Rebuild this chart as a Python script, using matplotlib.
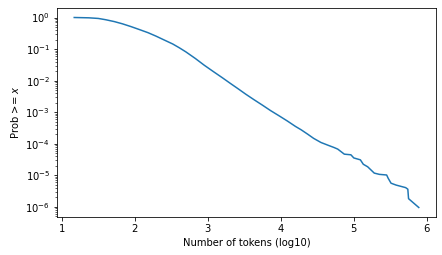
import matplotlib
matplotlib.use("Agg")
import matplotlib.pyplot as plt
import numpy as np

# log10 of token counts and tail probability P(X >= x)
log_tokens = [1.17, 1.37, 1.50, 1.60, 1.72, 1.83, 1.95, 2.06, 2.18, 2.29, 2.40,
              2.52, 2.61, 2.70, 2.83, 2.95, 3.08, 3.20, 3.31, 3.41, 3.52, 3.63,
              3.75, 3.86, 3.98, 4.09, 4.20, 4.28, 4.37, 4.45, 4.55, 4.65, 4.73,
              4.78, 4.87, 4.96, 5.00, 5.09, 5.13, 5.19, 5.28, 5.35, 5.45, 5.47,
              5.51, 5.58, 5.71, 5.74, 5.75, 5.89]
log_prob = [0.0, -0.01, -0.03, -0.07, -0.13, -0.20, -0.29, -0.38, -0.48, -0.59,
            -0.71, -0.84, -0.96, -1.09, -1.30, -1.51, -1.72, -1.91, -2.09, -2.25,
            -2.43, -2.60, -2.78, -2.95, -3.12, -3.28, -3.45, -3.56, -3.70, -3.83,
            -3.96, -4.05, -4.12, -4.17, -4.33, -4.35, -4.45, -4.51, -4.65, -4.73,
            -4.93, -4.97, -4.99, -5.09, -5.25, -5.31, -5.39, -5.44, -5.74, -6.02]
prob = [10 ** v for v in log_prob]

fig = plt.figure(figsize=(442 / 72, 255 / 72), dpi=72)
ax = fig.add_axes([57 / 442, 38 / 255, 379 / 442, 209 / 255])
ax.plot(log_tokens, prob, color="#1f77b4", linewidth=1.5)
ax.set_yscale("log")
ax.set_xlabel("Number of tokens (log10)")
ax.set_ylabel("Prob >= $x$")
fig.savefig("out.png", dpi=72)
